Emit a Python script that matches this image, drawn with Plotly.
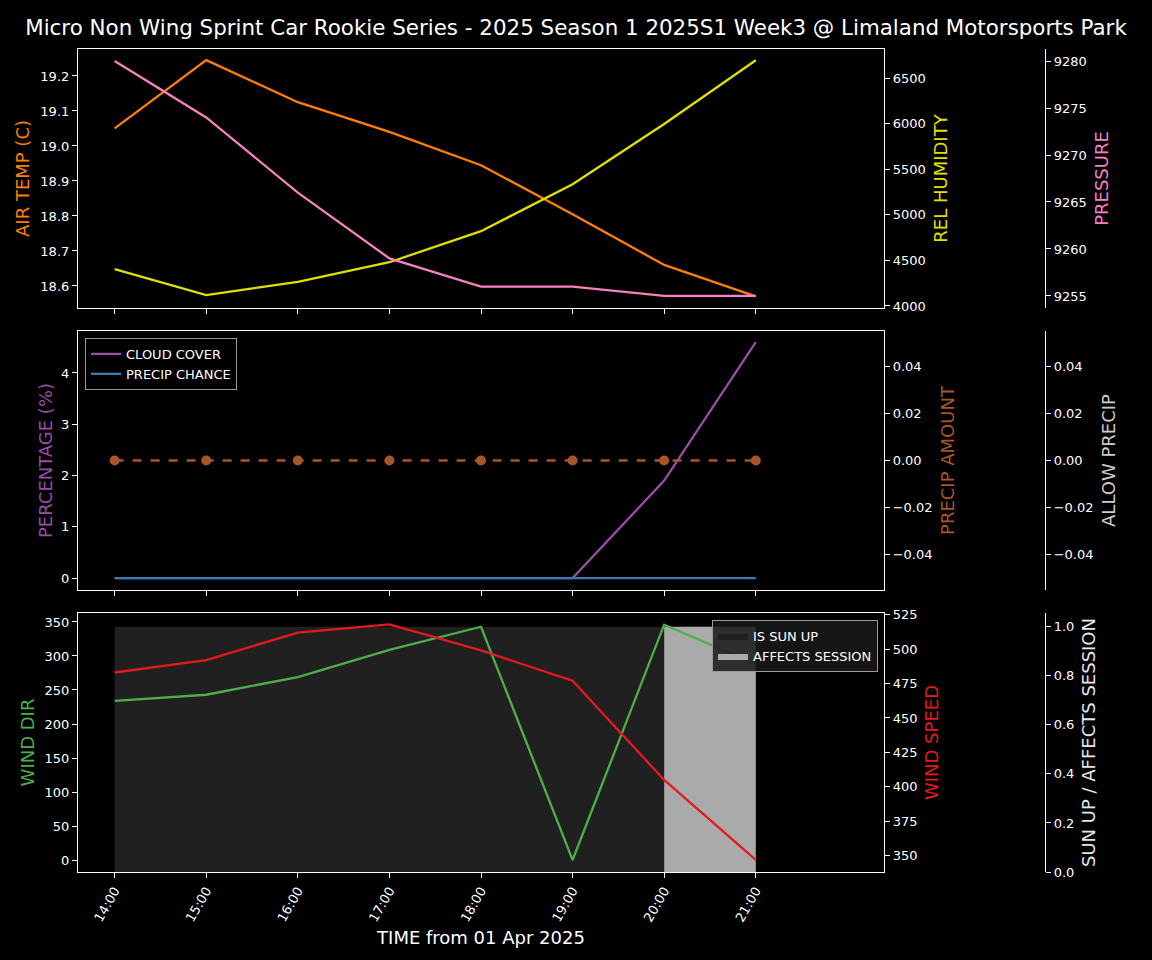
import plotly.graph_objects as go

# hourly data, 01 Apr 2025
hours = [14, 15, 16, 17, 18, 19, 20, 21]
hour_labels = ["14:00", "15:00", "16:00", "17:00", "18:00", "19:00", "20:00", "21:00"]

air_temp = [19.05, 19.245, 19.125, 19.04, 18.945, 18.805, 18.66, 18.57]
rel_humidity = [4405, 4120, 4265, 4480, 4820, 5335, 5995, 6695]
pressure = [9280, 9274, 9266, 9259, 9256, 9256, 9255, 9255]

cloud_cover = [0, 0, 0, 0, 0, 0, 1.9, 4.6]
precip_chance = [0, 0, 0, 0, 0, 0, 0, 0]
precip_amount = [0, 0, 0, 0, 0, 0, 0, 0]
allow_precip = [0, 0, 0, 0, 0, 0, 0, 0]

wind_dir = [234, 243, 269, 309, 343, 0, 346, 288]
wind_speed = [483, 492, 512, 518, 499, 477, 405, 347]
is_sun_up = [1, 1, 1, 1, 1, 1, 1, 0]
affects_session = [0, 0, 0, 0, 0, 0, 1, 1]

title = "Micro Non Wing Sprint Car Rookie Series - 2025 Season 1 2025S1 Week3 @ Limaland Motorsports Park"

FONT = "DejaVu Sans"
LW = 2.3
xdom = [0, 0.7795]
third_pos = 0.9352
d1 = [0.6853, 1.0]
d2 = [0.3426, 0.6574]
d3 = [0.0, 0.3147]

fig = go.Figure()

# top panel
fig.add_trace(go.Scatter(x=hours, y=air_temp, mode="lines", line=dict(color="#ff7f00", width=LW),
                         xaxis="x", yaxis="y", showlegend=False))
fig.add_trace(go.Scatter(x=hours, y=rel_humidity, mode="lines", line=dict(color="#e0e000", width=LW),
                         xaxis="x", yaxis="y2", showlegend=False))
fig.add_trace(go.Scatter(x=hours, y=pressure, mode="lines", line=dict(color="#f781bf", width=LW),
                         xaxis="x", yaxis="y3", showlegend=False))

# middle panel
fig.add_trace(go.Scatter(x=hours, y=cloud_cover, mode="lines", name="CLOUD COVER",
                         line=dict(color="#984ea3", width=LW), xaxis="x2", yaxis="y4", legend="legend"))
fig.add_trace(go.Scatter(x=hours, y=precip_chance, mode="lines", name="PRECIP CHANCE",
                         line=dict(color="#377eb8", width=LW), xaxis="x2", yaxis="y4", legend="legend"))
fig.add_trace(go.Scatter(x=hours, y=precip_amount, mode="lines+markers",
                         line=dict(color="#a65628", width=LW, dash="dash"),
                         marker=dict(color="#a65628", size=10), xaxis="x2", yaxis="y5", showlegend=False))
fig.add_trace(go.Scatter(x=hours, y=allow_precip, mode="lines", line=dict(color="rgba(0,0,0,0)", width=1),
                         xaxis="x2", yaxis="y6", showlegend=False, hoverinfo="skip"))

# bottom panel: shading on the base axis so it stays behind the lines
fig.add_trace(go.Scatter(x=hours, y=is_sun_up, mode="lines", name="IS SUN UP", line_shape="hv",
                         line=dict(width=0, color="#202020"), fill="tozeroy", fillcolor="#202020",
                         xaxis="x3", yaxis="y7", legend="legend2"))
fig.add_trace(go.Scatter(x=hours, y=affects_session, mode="lines", name="AFFECTS SESSION", line_shape="hv",
                         line=dict(width=0, color="#aaaaaa"), fill="tozeroy", fillcolor="#aaaaaa",
                         xaxis="x3", yaxis="y7", legend="legend2"))
fig.add_trace(go.Scatter(x=hours, y=wind_dir, mode="lines", line=dict(color="#4daf4a", width=LW),
                         xaxis="x3", yaxis="y8", showlegend=False))
fig.add_trace(go.Scatter(x=hours, y=wind_speed, mode="lines", line=dict(color="#e41a1c", width=LW),
                         xaxis="x3", yaxis="y9", showlegend=False))

tickf = dict(family=FONT, size=13, color="white")
common = dict(showline=True, linecolor="white", linewidth=1.2, ticks="outside", ticklen=5,
              tickcolor="white", tickfont=tickf, showgrid=False, zeroline=False)


def xax(anchor, labels):
    return dict(common, domain=xdom, anchor=anchor, range=[13.6, 22.4], mirror=True,
                tickvals=hours, ticktext=hour_labels, showticklabels=labels, tickangle=-60)


def yax(text, color, standoff, **kw):
    d = dict(common, title=dict(text=text, standoff=standoff,
                                font=dict(family=FONT, size=18, color=color)))
    d.update(kw)
    return d


fig.update_layout(
    width=1152, height=960,
    paper_bgcolor="black", plot_bgcolor="black",
    font=dict(family=FONT, color="white"),
    margin=dict(l=78, r=40, t=49, b=88),
    title=dict(text=title, x=0.5, xanchor="center", y=1 - 28 / 960, yanchor="middle",
               font=dict(family=FONT, size=21.4, color="white")),
    xaxis=xax("y", False),
    xaxis2=xax("y4", False),
    xaxis3=dict(xax("y7", True),
                title=dict(text="TIME from 01 Apr 2025", standoff=8,
                           font=dict(family=FONT, size=18, color="white"))),
    yaxis=yax("AIR TEMP (C)", "#ff7f00", 6, domain=d1, anchor="x", range=[18.537, 19.277], dtick=0.1,
              tickformat=".1f"),
    yaxis2=yax("REL HUMIDITY", "#e0e000", 9, overlaying="y", side="right", anchor="x",
               range=[3978, 6818], dtick=500),
    yaxis3=yax("PRESSURE", "#f781bf", 9, overlaying="y", side="right", anchor="free", position=third_pos,
               range=[9253.72, 9281.28], dtick=5),
    yaxis4=yax("PERCENTAGE (%)", "#984ea3", 3, domain=d2, anchor="x2", range=[-0.234, 4.82], dtick=1),
    yaxis5=yax("PRECIP AMOUNT", "#a65628", 9, overlaying="y4", side="right", anchor="x2",
               range=[-0.055, 0.055], dtick=0.02, tickformat=".2f"),
    yaxis6=yax("ALLOW PRECIP", "#cccccc", 9, overlaying="y4", side="right", anchor="free",
               position=third_pos, range=[-0.055, 0.055], dtick=0.02, tickformat=".2f"),
    yaxis7=yax("SUN UP / AFFECTS SESSION", "#e6e6e6", 9, domain=d3, side="right", anchor="free",
               position=third_pos, range=[0, 1.056], dtick=0.2, tickformat=".1f"),
    yaxis8=yax("WIND DIR", "#4daf4a", 5, overlaying="y7", side="left", anchor="x3",
               range=[-17.6, 363.2], dtick=50),
    yaxis9=yax("WIND SPEED", "#e41a1c", 8, overlaying="y7", side="right", anchor="x3",
               range=[338.2, 526.2], dtick=25),
    legend=dict(x=0.0068, y=0.6489, xanchor="left", yanchor="top", bgcolor="rgba(0,0,0,0.8)",
                bordercolor="#999999", borderwidth=1, font=dict(family=FONT, size=13, color="white")),
    legend2=dict(x=0.7737, y=0.306, xanchor="right", yanchor="top", bgcolor="rgba(25,25,25,0.85)",
                 bordercolor="#999999", borderwidth=1, font=dict(family=FONT, size=13, color="white")),
)

# drop the browser's default page margin so the figure sits at the window origin
fig.write_html("out.html", config={"displayModeBar": False},
               post_script="document.body.style.margin='0';")
